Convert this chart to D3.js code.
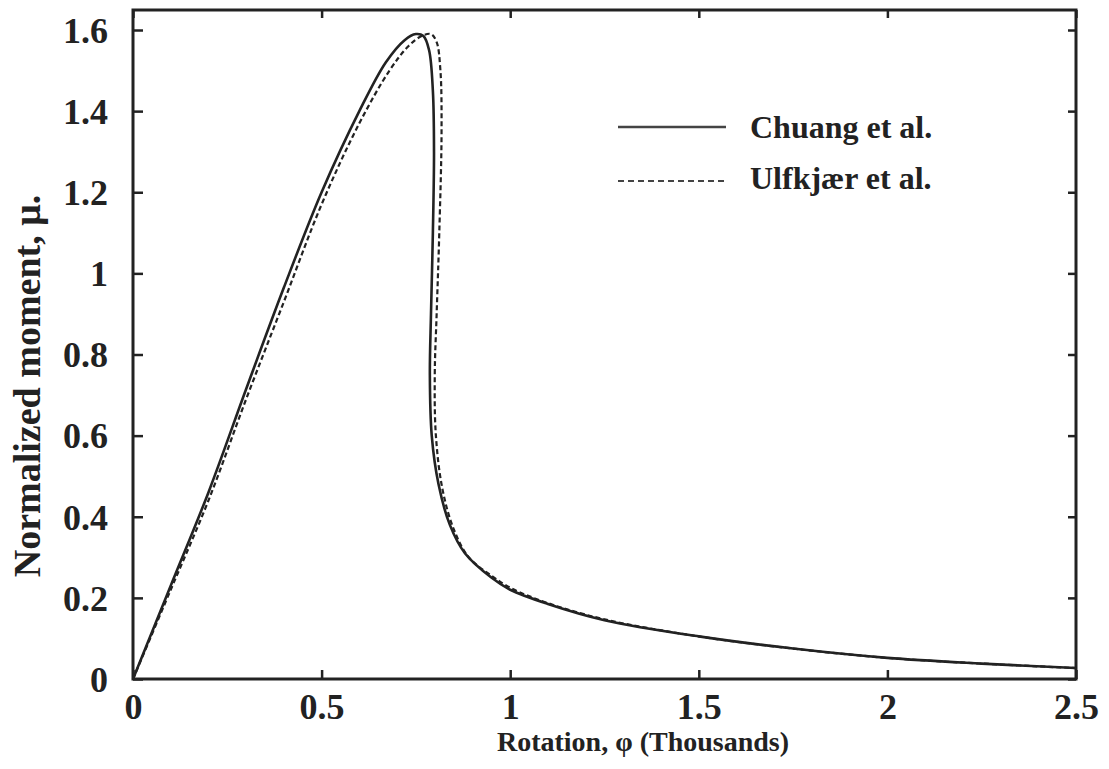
<!DOCTYPE html>
<html><head><meta charset="utf-8">
<script src="https://cdn.jsdelivr.net/npm/d3@7"></script>
<style>body{margin:0;background:#fff}svg{display:block}</style>
</head><body>
<svg id="c" width="1109" height="769"></svg>
<script>
// Data (rotation in thousands, normalized moment)
const chuangX = [0,0.1,0.2,0.3,0.4,0.5,0.6,0.67,0.72,0.75,0.77,0.785,0.795,0.798,0.795,0.79,0.787,0.792,0.81,0.84,0.88,0.95,1.0,1.1,1.25,1.5,1.75,2.0,2.25,2.5];
const chuangY = [0,0.23,0.46,0.715,0.965,1.2,1.4,1.52,1.575,1.59,1.585,1.55,1.45,1.3,1.1,0.9,0.75,0.6,0.48,0.38,0.31,0.25,0.22,0.185,0.145,0.105,0.075,0.052,0.038,0.027];
const ulfX = [0,0.1,0.2,0.3,0.4,0.5,0.6,0.68,0.73,0.765,0.79,0.805,0.815,0.818,0.812,0.805,0.8,0.803,0.82,0.85,0.89,0.95,1.0,1.1,1.25,1.5,1.75,2.0,2.25,2.5];
const ulfY = [0,0.22,0.44,0.69,0.93,1.17,1.37,1.5,1.56,1.585,1.59,1.57,1.5,1.35,1.1,0.9,0.75,0.6,0.47,0.37,0.3,0.255,0.225,0.187,0.147,0.105,0.075,0.052,0.038,0.027];
const xTicks = [0,0.5,1,1.5,2,2.5];
const xTickLabels = ["0","0.5","1","1.5","2","2.5"];
const yTicks = [0,0.2,0.4,0.6,0.8,1,1.2,1.4,1.6];
const yTickLabels = ["0","0.2","0.4","0.6","0.8","1","1.2","1.4","1.6"];
const seriesNames = ["Chuang et al.","Ulfkjær et al."];
const xTitle = "Rotation, φ (Thousands)";
const yTitle = "Normalized moment, μ.";

const svg = d3.select("#c");
const L=133,R=1076,T=10,B=679;
const x = d3.scaleLinear().domain([0,2.5]).range([L,R]);
const y = d3.scaleLinear().domain([0,1.6]).range([B,30]);
const ink="#222";
const font="'Liberation Serif','Times New Roman',serif";

// frame
svg.append("rect").attr("x",L).attr("y",T).attr("width",R-L).attr("height",B-T)
  .attr("fill","none").attr("stroke",ink).attr("stroke-width",3);

// axes with inward ticks
const fmtX = (d,i)=>xTickLabels[i];
const fmtY = (d,i)=>yTickLabels[i];
const gx = svg.append("g").attr("transform",`translate(0,${B})`)
  .call(d3.axisBottom(x).tickValues(xTicks).tickFormat(fmtX).tickSize(-9).tickPadding(14));
const gxt = svg.append("g").attr("transform",`translate(0,${T})`)
  .call(d3.axisTop(x).tickValues(xTicks).tickFormat("").tickSize(-8));
const gy = svg.append("g").attr("transform",`translate(${L},0)`)
  .call(d3.axisLeft(y).tickValues(yTicks).tickFormat(fmtY).tickSize(-10).tickPadding(25));
const gyr = svg.append("g").attr("transform",`translate(${R},0)`)
  .call(d3.axisRight(y).tickValues(yTicks).tickFormat("").tickSize(-8));
[gx,gxt,gy,gyr].forEach(g=>{
  g.select(".domain").remove();
  g.selectAll(".tick line").attr("stroke",ink).attr("stroke-width",2.5);
  g.selectAll("text").attr("fill",ink).style("font-family",font).style("font-weight","bold").style("font-size","36px");
});
gy.selectAll("text").attr("dy","0.34em");

// titles
svg.append("text").attr("x",643).attr("y",751).attr("text-anchor","middle")
  .attr("fill",ink).style("font-family",font).style("font-weight","bold").style("font-size","28px").text(xTitle);
svg.append("text").attr("transform",`translate(40,386) rotate(-90)`).attr("text-anchor","middle")
  .attr("fill",ink).style("font-family",font).style("font-weight","bold").style("font-size","38px").text(yTitle);

// curves
const line = d3.line().x(d=>x(d[0])).y(d=>y(d[1])).curve(d3.curveCatmullRom.alpha(0.5));
const chuang = chuangX.map((v,i)=>[v,chuangY[i]]);
const ulf = ulfX.map((v,i)=>[v,ulfY[i]]);
svg.append("path").datum(ulf).attr("d",line).attr("fill","none").attr("stroke",ink)
  .attr("stroke-width",2.2).attr("stroke-dasharray","5,3");
svg.append("path").datum(chuang).attr("d",line).attr("fill","none").attr("stroke",ink)
  .attr("stroke-width",2.6);

// legend
const leg = [{y:127,dash:null,tb:138},{y:181,dash:"6,4",tb:189}];
leg.forEach((l,i)=>{
  svg.append("line").attr("x1",618).attr("x2",726).attr("y1",l.y).attr("y2",l.y)
    .attr("stroke","#444").attr("stroke-width",i?2:2.5).attr("stroke-dasharray",l.dash);
  svg.append("text").attr("x",750).attr("y",l.tb).attr("fill",ink)
    .style("font-family",font).style("font-weight","bold").style("font-size","32px").text(seriesNames[i]);
});
</script>
</body></html>
